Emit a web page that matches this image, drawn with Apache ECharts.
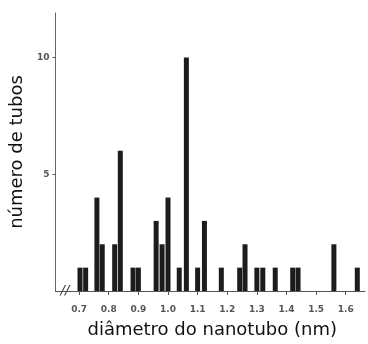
<!DOCTYPE html>
<html>
<head>
<meta charset="utf-8">
<script src="https://cdn.jsdelivr.net/npm/echarts@6/dist/echarts.min.js"></script>
<style>html,body{margin:0;padding:0;background:#fff;}#c{width:368px;height:344px;}</style>
</head>
<body>
<div id="c"></div>
<script>
var diameters = [0.703, 0.722, 0.760, 0.778, 0.820, 0.839, 0.882, 0.900, 0.960, 0.980, 1.000, 1.038, 1.062, 1.100, 1.123, 1.180, 1.242, 1.260, 1.300, 1.320, 1.362, 1.421, 1.439, 1.560, 1.639];
var counts    = [1, 1, 4, 2, 2, 6, 1, 1, 3, 2, 4, 1, 10, 1, 3, 1, 1, 2, 1, 1, 1, 1, 1, 2, 1];
var xTicks = [0.7, 0.8, 0.9, 1.0, 1.1, 1.2, 1.3, 1.4, 1.5, 1.6];
var yTicks = [5, 10];

var chart = echarts.init(document.getElementById('c'), null, {renderer: 'canvas'});
var data = diameters.map(function (d, i) { return [d, counts[i]]; });
chart.setOption({
  animation: false,
  backgroundColor: '#fff',
  grid: {left: 52, right: 3, top: 13, bottom: 46, containLabel: false},
  xAxis: {
    type: 'value', min: 0.62, max: 1.665,
    name: 'diâmetro do nanotubo (nm)', nameLocation: 'middle', nameGap: 30,
    nameTextStyle: {fontFamily: 'DejaVu Sans', fontSize: 18, color: '#111', padding: [0, 0, 0, 4]},
    axisLine: {show: true, lineStyle: {color: '#555', width: 1}},
    axisTick: {show: true, length: 4, lineStyle: {color: '#555'}, customValues: xTicks},
    axisLabel: {customValues: xTicks, formatter: function (v) { return v.toFixed(1); }, fontFamily: 'DejaVu Sans', fontSize: 9, fontWeight: 'bold', color: '#555', margin: 14},
    splitLine: {show: false}
  },
  yAxis: {
    type: 'value', min: 0, max: 11.9,
    name: 'número de tubos', nameLocation: 'middle', nameGap: 28, nameRotate: 90,
    nameTextStyle: {fontFamily: 'DejaVu Sans', fontSize: 18, color: '#111'},
    axisLine: {show: true, lineStyle: {color: '#666', width: 1}},
    axisTick: {show: true, length: 3, lineStyle: {color: '#555'}, customValues: yTicks},
    axisLabel: {customValues: yTicks, fontFamily: 'DejaVu Sans', fontSize: 9, fontWeight: 'bold', color: '#555', margin: 6},
    splitLine: {show: false}
  },
  series: [{
    type: 'bar', data: data, barWidth: 5,
    itemStyle: {color: '#1c1c1c'}
  }]
});
var p = chart.convertToPixel({gridIndex: 0}, [0.652, 0]);
chart.setOption({
  graphic: [{
    type: 'text', x: p[0], y: p[1],
    style: {text: '//', fontFamily: 'DejaVu Sans', fontSize: 13, fontStyle: 'italic', fill: '#333', align: 'center', verticalAlign: 'middle'}
  }]
});
</script>
</body>
</html>
